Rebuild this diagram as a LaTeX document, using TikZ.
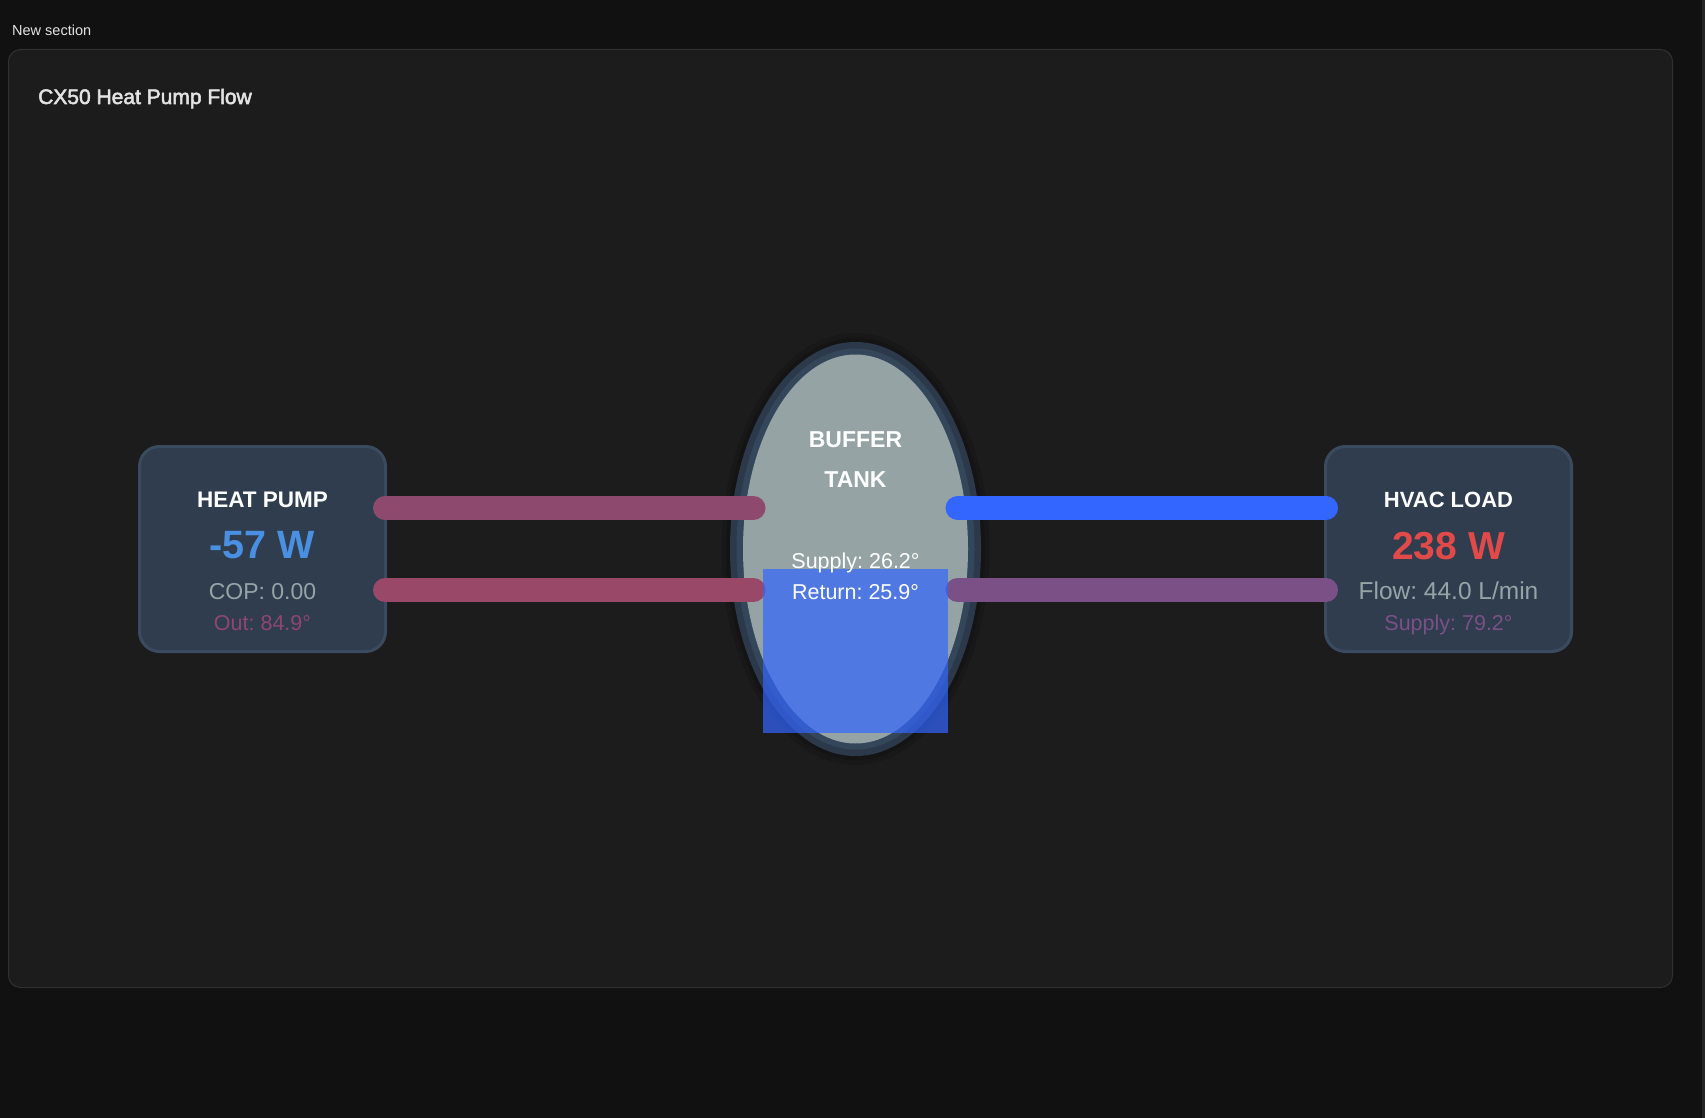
\documentclass[tikz,border=0pt]{standalone}
\usepackage{fontspec}
\setmainfont{Liberation Sans}
\newfontfamily\flowmedfont[FakeBold=2.5]{Liberation Sans}
\usepackage{xcolor}
\usetikzlibrary{calc}
\usetikzlibrary{positioning}
\frenchspacing

\definecolor{pagebg}{HTML}{111111}
\definecolor{cardbg}{HTML}{1C1C1C}
\definecolor{cardedge}{HTML}{303030}
\definecolor{scrollbg}{HTML}{262626}
\definecolor{boxfill}{HTML}{2F3D4E}
\definecolor{boxedge}{HTML}{3A4B60}
\definecolor{tankouter}{HTML}{2B394A}
\definecolor{tankmid}{HTML}{34465A}
\definecolor{tankfill}{HTML}{95A3A4}
\definecolor{pipehottop}{HTML}{8E4A6E}
\definecolor{pipehotbot}{HTML}{9A4868}
\definecolor{pipecold}{HTML}{3366FF}
\definecolor{pipewarm}{HTML}{7B5087}
\definecolor{levelblue}{HTML}{3366FF}
\definecolor{valblue}{HTML}{4A90E2}
\definecolor{valred}{HTML}{E24A4A}
\definecolor{txtgray}{HTML}{95A5A6}
\definecolor{txtpink}{HTML}{8F4670}
\definecolor{txtpurple}{HTML}{7B4F88}
\definecolor{titlegray}{HTML}{E3E3E3}

\begin{document}
\begin{tikzpicture}[x=1pt,y=-1pt,
    devbox/.style={draw=boxedge, line width=3pt, fill=boxfill, rounded corners=20pt,
      minimum width=246pt, minimum height=205pt, inner sep=0pt},
    pipe/.style={line width=24pt, line cap=round},
    lbl/.style={anchor=base, inner sep=0pt, text=white},
    headlbl/.style={lbl, font=\bfseries\fontsize{22.5}{27}\selectfont},
    biglbl/.style={lbl, font=\bfseries\fontsize{39.5}{46}\selectfont},
    smalllbl/.style={lbl, font=\fontsize{21.5}{26}\selectfont}]
        \newcommand{\flowhpx}{262.5}
        \newcommand{\flowhvacx}{1448.5}
        \newcommand{\flowtankx}{855.5}
        \newcommand{\flowmidy}{549}
        \newcommand{\flowpipeoff}{41}
        \newcommand{\flowtankpipe}{102}
        \useasboundingbox (0,0) rectangle (1705,1118);
        \fill[pagebg] (0,0) rectangle (1705,1118);
        \fill[scrollbg] (1702,0) rectangle (1705,1118);
        \draw[draw=cardedge, fill=cardbg, line width=1pt, rounded corners=12pt] (8.5,49.5) rectangle (1672.5,987.5);
        \node[lbl, anchor=base west, text=titlegray, font=\fontsize{14.5}{17}\selectfont] (section) at (12,35.7) {New section};
        \node[lbl, anchor=base west, text=titlegray, font=\flowmedfont\fontsize{21}{25}\selectfont] (cardtitle) at (38,104) {CX50 Heat Pump Flow};
        % buffer tank
        \coordinate (tank) at (\flowtankx,\flowmidy);
        \fill[black, opacity=0.12] (tank) ellipse [x radius=134, y radius=216];
        \fill[black, opacity=0.15] (tank) ellipse [x radius=129.5, y radius=211];
        \fill[tankouter] (tank) ellipse [x radius=125.5, y radius=207];
        \fill[tankmid] (tank) ellipse [x radius=119, y radius=200.5];
        \fill[tankfill] (tank) ellipse [x radius=112.5, y radius=194.5];
        % boxes
        \node[devbox] (hp) at (\flowhpx,\flowmidy) {};
        \node[devbox] (hvac) at (\flowhvacx,\flowmidy) {};
        % pipes
        \draw[pipe, pipehottop] ($(hp.east)+(-2,-\flowpipeoff)$) -- ($(tank)+(-\flowtankpipe,-\flowpipeoff)$);
        \draw[pipe, pipehotbot] ($(hp.east)+(-2,\flowpipeoff)$) -- ($(tank)+(-\flowtankpipe,\flowpipeoff)$);
        \draw[pipe, pipecold] ($(tank)+(\flowtankpipe,-\flowpipeoff)$) -- ($(hvac.west)+(2,-\flowpipeoff)$);
        \draw[pipe, pipewarm] ($(tank)+(\flowtankpipe,\flowpipeoff)$) -- ($(hvac.west)+(2,\flowpipeoff)$);
        % tank level
        \fill[levelblue, opacity=0.7] (763,569) rectangle (948,733);
        \node[headlbl, font=\bfseries\fontsize{23}{27}\selectfont] (tankname) at (\flowtankx,447) {BUFFER};
        \node[headlbl, font=\bfseries\fontsize{23}{27}\selectfont] (tanknametwo) at (\flowtankx,487) {TANK};
        \node[smalllbl] (tanksupply) at (\flowtankx,568) {Supply: 26.2°};
        \node[smalllbl] (tankreturn) at (\flowtankx,599) {Return: 25.9°};
        % heat pump texts
        \node[headlbl] (hpname) at (\flowhpx,507) {HEAT PUMP};
        \node[biglbl, text=valblue] (hppower) at (\flowhpx,558) {-57 W};
        \node[lbl, text=txtgray, font=\fontsize{23}{27}\selectfont] (hpcop) at (\flowhpx,599) {COP: 0.00};
        \node[smalllbl, text=txtpink] (hpout) at (\flowhpx,630) {Out: 84.9°};
        % hvac texts
        \node[headlbl, font=\bfseries\fontsize{22}{27}\selectfont] (hvacname) at (\flowhvacx,507) {HVAC LOAD};
        \node[biglbl, text=valred, font=\bfseries\fontsize{39}{46}\selectfont] (hvacpower) at (\flowhvacx,559) {238 W};
        \node[lbl, text=txtgray, font=\fontsize{24.5}{29}\selectfont] (hvacflow) at (\flowhvacx,599) {Flow: 44.0 L/min};
        \node[smalllbl, text=txtpurple] (hvacsupply) at (\flowhvacx,630) {Supply: 79.2°};
    \end{tikzpicture}
\end{document}
